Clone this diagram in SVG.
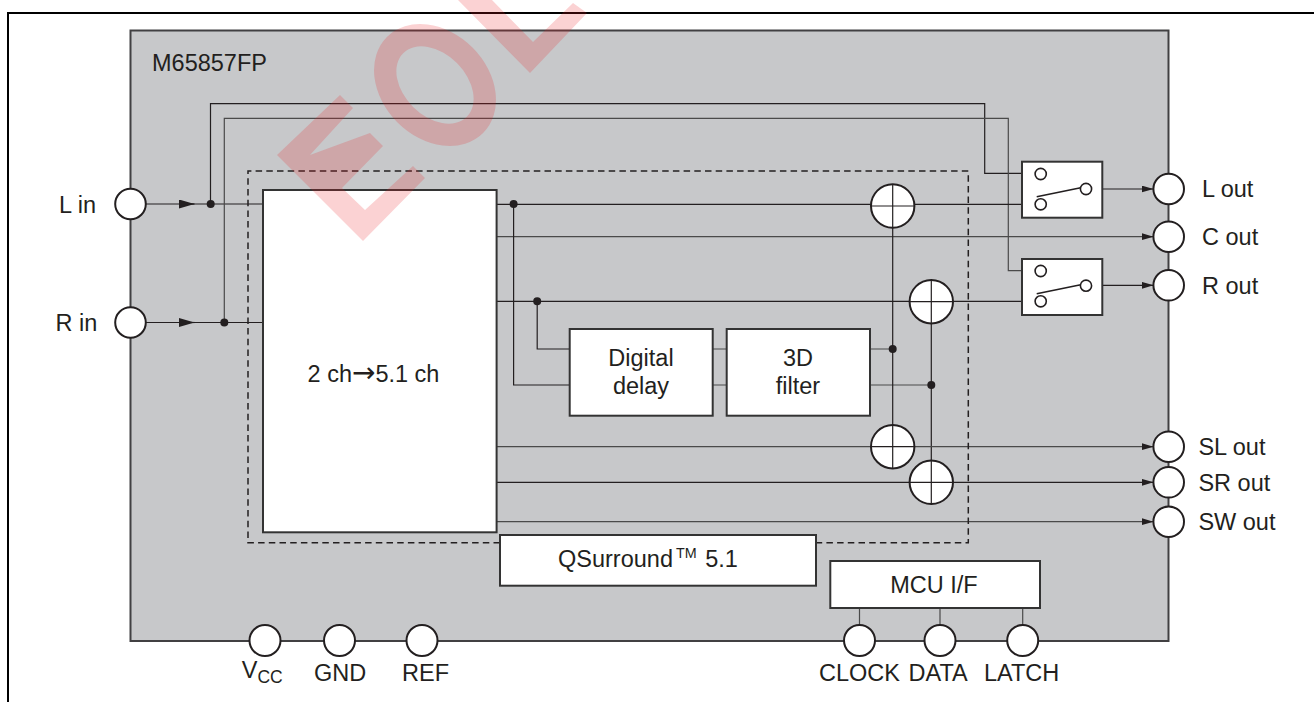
<svg xmlns="http://www.w3.org/2000/svg" width="1314" height="702" viewBox="0 0 1314 702">
<style>
text{font-family:"Liberation Sans",Arial,sans-serif;font-size:23.500px;fill:#231f20;font-variant-ligatures:none;font-feature-settings:"liga" 0,"dlig" 0,"clig" 0}
.m{text-anchor:middle}
.box{fill:#fff;stroke:#333;stroke-width:2}
.pin{fill:#fff;stroke:#231f20;stroke-width:2}
.w{fill:none;stroke:#231f20;stroke-width:1.200}
.g{fill:none;stroke:#4a4a4a;stroke-width:1.200}
.dot{fill:#231f20}
.sw{fill:#fff;stroke:#231f20;stroke-width:1.600}
</style>
<defs>
<marker id="arr" markerUnits="userSpaceOnUse" markerWidth="14" markerHeight="10" refX="12" refY="3.500" orient="auto"><path d="M0 0L12 3.500L0 7Z" fill="#231f20"/></marker>
<marker id="arrin" markerUnits="userSpaceOnUse" markerWidth="17" markerHeight="10" refX="15.500" refY="4.500" orient="auto"><path d="M0 0L15.500 4.500L0 9Z" fill="#231f20"/></marker>
</defs>
<rect width="1314" height="702" fill="#fff"/>
<path d="M8 702V13H1314" fill="none" stroke="#000" stroke-width="2"/>
<rect id="chip" x="130.500" y="30.500" width="1038" height="610.500" fill="#c7c8ca" stroke="#414042" stroke-width="2"/>
<g id="connectors">
<path class="w" d="M146 204H263"/>
<path class="w" d="M146 322.500H263"/>
<path class="w" d="M179 204H194.500" marker-end="url(#arrin)"/>
<path class="w" d="M179 322.500H194.500" marker-end="url(#arrin)"/>
<path class="w" d="M210.500 204V103.700H984.700V173.300H1040"/>
<path class="g" d="M224.300 322.500V118.300H1008.300V270.700H1040"/>
<path class="w" d="M497 204.300H1040"/>
<path class="g" d="M497 236.700H1153.500" marker-end="url(#arr)"/>
<path class="w" d="M497 301.300H1040"/>
<path class="w" d="M513.600 204V385H570"/>
<path class="w" d="M537.200 301V349H570"/>
<path class="g" d="M713 349H727M713 385H727"/>
<path class="g" d="M870 349H892.700M870 385H931.300"/>
<path class="w" d="M892.700 204V438"/>
<path class="w" d="M931.300 301V482"/>
<path class="g" d="M497 446.700H1153.500" marker-end="url(#arr)"/>
<path class="w" d="M497 482.300H1153.500" marker-end="url(#arr)"/>
<path class="g" d="M497 521.700H1153.500" marker-end="url(#arr)"/>
<path class="w" d="M1086 189H1153.500" marker-end="url(#arr)"/>
<path class="w" d="M1086 285.300H1153.500" marker-end="url(#arr)"/>
<path class="g" d="M859.500 608V625M940 608V625M1022.700 608V625"/>
<circle class="dot" cx="210.700" cy="204" r="4"/>
<circle class="dot" cx="224.300" cy="322.500" r="4"/>
<circle class="dot" cx="513.600" cy="204" r="4"/>
<circle class="dot" cx="537.200" cy="301.300" r="4"/>
<circle class="dot" cx="892.700" cy="349" r="4"/>
<circle class="dot" cx="931.300" cy="385" r="4"/>
</g>
<path id="qsurround-boundary" d="M500 542.700H248V171H968.300V542.700H817" fill="none" stroke="#231f20" stroke-width="1.500" stroke-dasharray="6.500 4.200"/>
<g id="block-main"><rect class="box" x="263" y="190" width="233.600" height="342.300"/><text class="m" x="373.500" y="381.700">2 ch<tspan font-family="DejaVu Sans" font-size="28">→</tspan>5.1 ch</text></g>
<g id="block-delay"><rect class="box" x="569.700" y="329" width="143" height="86.700"/><text class="m" x="641" y="365.500">Digital</text><text class="m" x="641" y="393.500">delay</text></g>
<g id="block-filter"><rect class="box" x="726.700" y="329" width="143.300" height="86.700"/><text class="m" x="798" y="365.500">3D</text><text class="m" x="798" y="393.500">filter</text></g>
<g id="block-qsurround"><rect class="box" x="500" y="535" width="316" height="50.700"/><text x="558" y="567.300">QSurround<tspan font-size="14.300" dx="3" dy="-9">TM</tspan><tspan dx="2" dy="9"> 5.1</tspan></text></g>
<g id="block-mcu"><rect class="box" x="830.300" y="561" width="209.700" height="47"/><text class="m" x="934" y="592.700">MCU I/F</text></g>
<g id="switch-l"><rect class="box" x="1022" y="161.700" width="80.300" height="56"/><circle class="sw" cx="1040.700" cy="174" r="5.600"/><circle class="sw" cx="1040.700" cy="204.300" r="5.600"/><circle class="sw" cx="1086" cy="189" r="5.600"/><path class="sw" fill="none" d="M1036.700 196.700L1080.700 187.700"/></g>
<g id="switch-r"><rect class="box" x="1022" y="259" width="80.300" height="56"/><circle class="sw" cx="1040.700" cy="271" r="5.600"/><circle class="sw" cx="1040.700" cy="301.300" r="5.600"/><circle class="sw" cx="1086" cy="285.700" r="5.600"/><path class="sw" fill="none" d="M1036.700 293.700L1080.700 284.700"/></g>
<g id="sum-1"><circle class="pin" cx="892.700" cy="206" r="21.700"/><path class="w" d="M871 206H914.400M892.700 184.300V227.700"/></g>
<g id="sum-2"><circle class="pin" cx="931.300" cy="301.700" r="21.700"/><path class="w" d="M909.600 301.700H953M931.300 280V323.400"/></g>
<g id="sum-3"><circle class="pin" cx="892.700" cy="446.700" r="21.700"/><path class="w" d="M871 446.700H914.400M892.700 425V468.400"/></g>
<g id="sum-4"><circle class="pin" cx="931.300" cy="482.300" r="21.700"/><path class="w" d="M909.600 482.300H953M931.300 460.600V504"/></g>
<g id="pin-lin"><circle class="pin" cx="130.500" cy="204" r="15.300"/><text x="59" y="213">L in</text></g>
<g id="pin-rin"><circle class="pin" cx="130.500" cy="322.500" r="15.300"/><text x="55.600" y="331">R in</text></g>
<g id="pin-lout"><circle class="pin" cx="1168.700" cy="189" r="15.300"/><text x="1202" y="197">L out</text></g>
<g id="pin-cout"><circle class="pin" cx="1168.700" cy="236.700" r="15.300"/><text x="1202" y="245">C out</text></g>
<g id="pin-rout"><circle class="pin" cx="1168.700" cy="285.300" r="15.300"/><text x="1202" y="294">R out</text></g>
<g id="pin-slout"><circle class="pin" cx="1168.700" cy="446.700" r="15.300"/><text x="1198.400" y="455">SL out</text></g>
<g id="pin-srout"><circle class="pin" cx="1168.700" cy="482.300" r="15.300"/><text x="1198.400" y="490.700">SR out</text></g>
<g id="pin-swout"><circle class="pin" cx="1168.700" cy="521.700" r="15.300"/><text x="1198.400" y="530">SW out</text></g>
<g id="pin-vcc"><circle class="pin" cx="265" cy="640.500" r="15.500"/><text x="241.700" y="677.700">V<tspan font-size="17.500" dy="5.300">CC</tspan></text></g>
<g id="pin-gnd"><circle class="pin" cx="339.500" cy="640.500" r="15.500"/><text x="314" y="680.700">GND</text></g>
<g id="pin-ref"><circle class="pin" cx="422" cy="640.500" r="15.500"/><text x="402" y="680.700">REF</text></g>
<g id="pin-clock"><circle class="pin" cx="859.500" cy="640.500" r="15.500"/><text x="819" y="680.700">CLOCK</text></g>
<g id="pin-data"><circle class="pin" cx="940" cy="640.500" r="15.500"/><text x="908.500" y="680.700">DATA</text></g>
<g id="pin-latch"><circle class="pin" cx="1022.700" cy="640.500" r="15.500"/><text x="984" y="680.700">LATCH</text></g>
<text x="152" y="70.700">M65857FP</text>
<g id="watermark" fill="#ed1c24" fill-opacity="0.2">
<path d="M340 95L353 108L310 155L370 133L383 146L342 188L365 210L413 166L425 178L363 241L277 155Z"/>
<path fill-rule="evenodd" transform="rotate(45 435 85)" d="M367 85a68 53 0 1 0 136 0a68 53 0 1 0 -136 0ZM390 85a45 31 0 1 0 90 0a45 31 0 1 0 -90 0Z"/>
<path d="M458 0L530 73L587 13L573 3L533 42L492 0Z"/>
</g>
</svg>
